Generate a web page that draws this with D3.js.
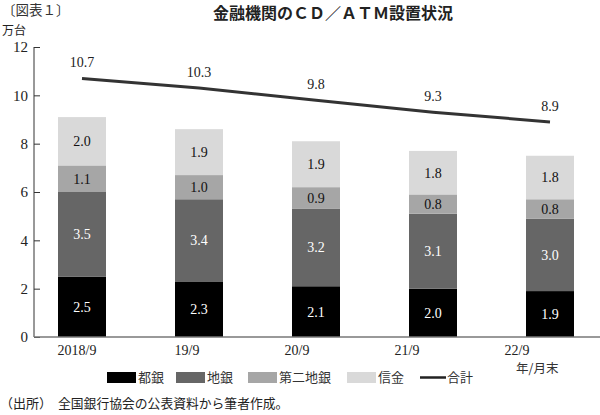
<!DOCTYPE html>
<html><head><meta charset="utf-8">
<script src="https://cdn.jsdelivr.net/npm/d3@7"></script>
<style>
body{margin:0;background:#fff;}
svg{display:block;}
</style></head>
<body>
<svg id="c" width="600" height="415"></svg>
<script>
const categories = ["2018/9","19/9","20/9","21/9","22/9"];
const toGin = [2.5,2.3,2.1,2.0,1.9];
const chiGin = [3.5,3.4,3.2,3.1,3.0];
const daini = [1.1,1.0,0.9,0.8,0.8];
const shinkin = [2.0,1.9,1.9,1.8,1.8];
const total = [10.7,10.3,9.8,9.3,8.9];
const yTicks = [0,2,4,6,8,10,12];
const seriesNames = ["都銀","地銀","第二地銀","信金"];
const seriesColors = ["#000000","#666666","#a6a6a6","#d9d9d9"];
const labelColors = ["#ffffff","#ffffff","#111111","#111111"];

const serif = "'Liberation Serif','DejaVu Serif',serif";
const jp = "'Noto Sans CJK JP','Noto Sans',sans-serif";

const svg = d3.select("#c");
const y = d3.scaleLinear().domain([0,12]).range([337,47]);
const x = d3.scalePoint().domain(categories).range([82,550]);
const xl = d3.scalePoint().domain(categories).range([77,517]);
const bw = 48;

const rows = categories.map((c,i)=>({cat:c,s0:toGin[i],s1:chiGin[i],s2:daini[i],s3:shinkin[i]}));
const stack = d3.stack().keys(["s0","s1","s2","s3"])(rows);

// bars
stack.forEach((layer,li)=>{
  const g = svg.append("g");
  g.selectAll("rect").data(layer).enter().append("rect")
    .attr("x",d=>x(d.data.cat)-bw/2)
    .attr("width",bw)
    .attr("y",d=>y(d[1]))
    .attr("height",d=>y(d[0])-y(d[1]))
    .attr("fill",seriesColors[li]);
  g.selectAll("text").data(layer).enter().append("text")
    .attr("x",d=>x(d.data.cat))
    .attr("y",d=>(y(d[0])+y(d[1]))/2)
    .attr("dy","0.35em")
    .attr("text-anchor","middle")
    .attr("font-family",serif)
    .attr("font-size",14)
    .attr("fill",labelColors[li])
    .text(d=>(d[1]-d[0]).toFixed(1));
});

// y axis
const ya = svg.append("g").attr("transform","translate(34,0)")
  .call(d3.axisRight(y).tickValues(yTicks).tickSize(6).tickFormat(""));
ya.select(".domain").attr("stroke","#333").attr("d","M0,"+y(12)+"V"+y(0));
ya.selectAll(".tick line").attr("stroke","#333");
svg.append("g").selectAll("text").data(yTicks).enter().append("text")
  .attr("x",28).attr("y",d=>y(d)).attr("dy","0.35em")
  .attr("text-anchor","end").attr("font-family",serif).attr("font-size",15)
  .attr("fill","#222").text(d=>d);

// x axis line
svg.append("line").attr("x1",34).attr("x2",600).attr("y1",y(0)).attr("y2",y(0))
  .attr("stroke","#777").attr("stroke-width",1.5);
svg.append("g").selectAll("text").data(categories).enter().append("text")
  .attr("x",d=>xl(d)).attr("y",355)
  .attr("text-anchor","middle").attr("font-family",serif).attr("font-size",14)
  .attr("fill","#222").text(d=>d);

// total line
const line = d3.line().x((d,i)=>x(categories[i])).y(d=>y(d));
svg.append("path").datum(total).attr("d",line).attr("fill","none")
  .attr("stroke","#333").attr("stroke-width",3);
svg.append("g").selectAll("text").data(total).enter().append("text")
  .attr("x",(d,i)=>x(categories[i])).attr("y",d=>y(d)-11)
  .attr("text-anchor","middle").attr("font-family",serif).attr("font-size",14)
  .attr("fill","#222").text(d=>d.toFixed(1));

// titles
svg.append("text").attr("x",2).attr("y",15).attr("font-family",jp).attr("font-size",13.5)
  .attr("fill","#333").text("〔図表１〕");
svg.append("text").attr("x",333).attr("y",19).attr("text-anchor","middle")
  .attr("font-family",jp).attr("font-size",16).attr("font-weight","bold")
  .attr("fill","#222").text("金融機関のＣＤ／ＡＴＭ設置状況");
svg.append("text").attr("x",2).attr("y",35).attr("font-family",jp).attr("font-size",12)
  .attr("fill","#222").text("万台");
svg.append("text").attr("x",516).attr("y",373)
  .attr("font-family",jp).attr("font-size",12.5).attr("fill","#333").text("年/月末");

// legend
const legX = [107,176,248,347];
const leg = svg.append("g");
seriesNames.forEach((n,i)=>{
  leg.append("rect").attr("x",legX[i]).attr("y",372).attr("width",29).attr("height",11)
    .attr("fill",seriesColors[i]);
  leg.append("text").attr("x",legX[i]+31).attr("y",382).attr("font-family",jp)
    .attr("font-size",13).attr("fill","#333").text(n);
});
leg.append("line").attr("x1",420).attr("x2",446).attr("y1",377.5).attr("y2",377.5)
  .attr("stroke","#222").attr("stroke-width",2.5);
leg.append("text").attr("x",447).attr("y",382).attr("font-family",jp)
  .attr("font-size",13).attr("fill","#333").text("合計");

// source
svg.append("text").attr("x",0).attr("y",408).attr("font-family",jp).attr("font-size",13)
  .attr("fill","#222").text("（出所）");
svg.append("text").attr("x",58).attr("y",408).attr("font-family",jp).attr("font-size",12.8)
  .attr("fill","#222").text("全国銀行協会の公表資料から筆者作成。");
</script>
</body></html>
